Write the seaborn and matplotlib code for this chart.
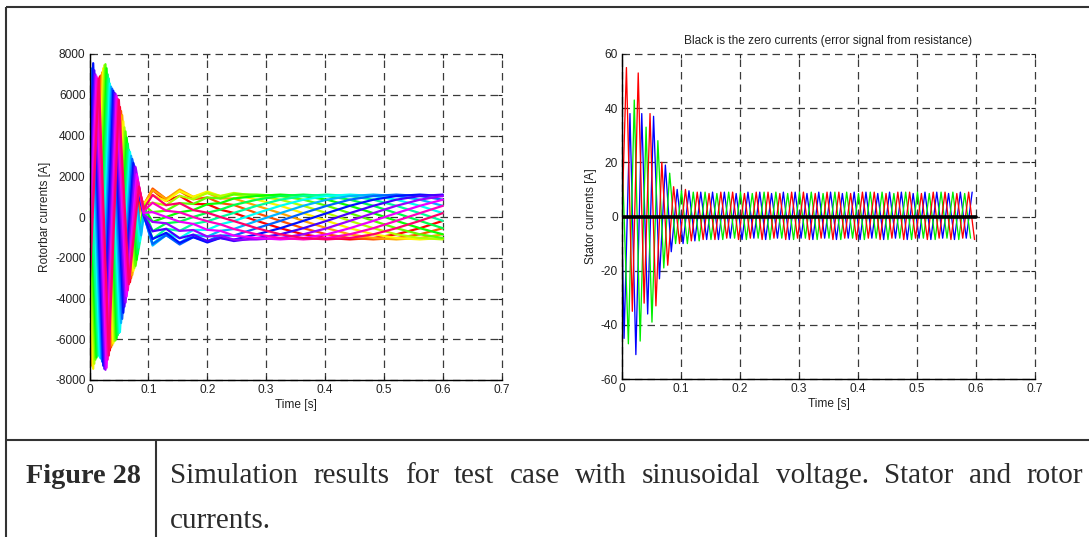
import matplotlib
matplotlib.use("Agg")
import matplotlib.pyplot as plt
import seaborn as sns
import pandas as pd
from matplotlib.lines import Line2D

# ------------------------------------------------------------------ data
x_ticks = [0, 0.1, 0.2, 0.3, 0.4, 0.5, 0.6, 0.7]
x_tick_labels = ["0", "0.1", "0.2", "0.3", "0.4", "0.5", "0.6", "0.7"]
rotor_y_ticks = [-8000, -6000, -4000, -2000, 0, 2000, 4000, 6000, 8000]
stator_y_ticks = [-60, -40, -20, 0, 20, 40, 60]

# rotor bars (18 bars, hsv colour order); value at t = 0
rotor_start = [-3500, -3190, -2520, -1540, -350, 840, 1960, 2840, 3360,
               3500, 3190, 2520, 1540, 350, -840, -1960, -2840, -3360]
# start-up oscillation: time of first extreme of each bar and its half period
rotor_first_extreme_t = [0.0004, 0.0023, 0.0042, 0.0061, 0.0080, 0.0099, 0.0118, 0.0137, 0.0156,
                         0.0004, 0.0023, 0.0042, 0.0061, 0.0080, 0.0099, 0.0118, 0.0137, 0.0156]
rotor_half_period = 0.01705
rotor_extremes = [
    [-6500, 6900, -6550, 5400, -3200, 1200],
    [-7000, 6950, -6400, 5200, -3000, 900],
    [-7300, 7100, -6300, 5000, -2850],
    [-7450, 7300, -6200, 4700, -2650],
    [-7200, 7450, -6100, 4400, -2500],
    [-7000, 7500, -6050, 4200, -2400],
    [-6900, 7300, -5950, 3900, -2100],
    [-6800, 7000, -5800, 3600, -1800],
    [-6800, 6800, -5700, 3300, -1500],
    [6500, -6900, 6550, -5650, 3200, -1200],
    [7000, -6950, 6400, -5200, 3000, -900],
    [7300, -7100, 6300, -5000, 2850],
    [7550, -7300, 6200, -4700, 2650],
    [7200, -7450, 6100, -4400, 2500],
    [7000, -7500, 6050, -4200, 2450],
    [6900, -7400, 5950, -3900, 2100],
    [6800, -7000, 5800, -3600, 1800],
    [6800, -6800, 5750, -3300, 1500],
]
# slow (slip frequency) part: knot times and bar values at each knot
rotor_slow_t = [0.092, 0.107, 0.130, 0.153, 0.176, 0.200, 0.222, 0.245, 0.284,
                0.324, 0.363, 0.403, 0.442, 0.482, 0.521, 0.561, 0.600]
rotor_slow_values = [
    [500, 580, 630, 650, 630, 580, 500, 400, 300, 200, 120, 70, 50, 70, 120, 200, 300, 400],
    [1320, 1400, 1320, 1080, 700, 240, -240, -700, -1080, -1320, -1400, -1320, -1080, -700, -240, 240, 700, 1080],
    [780, 890, 890, 780, 580, 310, 0, -310, -580, -780, -890, -890, -780, -580, -310, 0, 310, 580],
    [1040, 1270, 1350, 1270, 1040, 680, 230, -230, -680, -1040, -1270, -1350, -1270, -1040, -680, -230, 230, 680],
    [640, 870, 990, 990, 870, 640, 340, 0, -340, -640, -870, -990, -990, -870, -640, -340, 0, 340],
    [630, 960, 1180, 1250, 1180, 960, 630, 210, -210, -630, -960, -1180, -1250, -1180, -960, -630, -210, 210],
    [360, 680, 910, 1030, 1030, 910, 680, 360, 0, -360, -680, -910, -1030, -1030, -910, -680, -360, 0],
    [200, 590, 910, 1110, 1180, 1110, 910, 590, 200, -200, -590, -910, -1110, -1180, -1110, -910, -590, -200],
    [-190, 190, 550, 850, 1030, 1100, 1030, 850, 550, 190, -190, -550, -850, -1030, -1100, -1030, -850, -550],
    [-550, -190, 190, 550, 850, 1030, 1100, 1030, 850, 550, 190, -190, -550, -850, -1030, -1100, -1030, -850],
    [-850, -550, -190, 190, 550, 850, 1030, 1100, 1030, 850, 550, 190, -190, -550, -850, -1030, -1100, -1030],
    [-1030, -850, -550, -190, 190, 550, 850, 1030, 1100, 1030, 850, 550, 190, -190, -550, -850, -1030, -1100],
    [-1100, -1030, -850, -550, -190, 190, 550, 850, 1030, 1100, 1030, 850, 550, 190, -190, -550, -850, -1030],
    [-1030, -1100, -1030, -850, -550, -190, 190, 550, 850, 1030, 1100, 1030, 850, 550, 190, -190, -550, -850],
    [-850, -1030, -1100, -1030, -850, -550, -190, 190, 550, 850, 1030, 1100, 1030, 850, 550, 190, -190, -550],
    [-550, -850, -1030, -1100, -1030, -850, -550, -190, 190, 550, 850, 1030, 1100, 1030, 850, 550, 190, -190],
    [-190, -550, -850, -1030, -1100, -1030, -850, -550, -190, 190, 550, 850, 1030, 1100, 1030, 850, 550, 190],
]

# stator phase currents: value at t=0, first extreme time, half-cycle extremes
stator_half_period = 0.01
stator_phases = ["blue", "green", "red"]
stator_start = {"blue": -5, "green": 16, "red": 0}
stator_first_extreme_t = {"blue": 0.0035, "green": 0.0008, "red": 0.0075}
stator_red = [55, -35, 53, -32, 38, -33, 20, -18, 11, -10,
              10, -9, 9, -8.5, 8.5, -8.5, 9, -8, 9, -8.5,
              8.5, -8, 9, -8.5, 9, -8, 8.5, -8.5, 9, -8,
              9, -8.5, 8.5, -8, 9, -8.5, 9, -8, 8.5, -8.5,
              9, -8, 9, -8.5, 8.5, -8, 9, -8.5, 9, -8,
              8.5, -8.5, 9, -8, 9, -8.5, 8.5, -8, 9, -8.5]
stator_blue = [-45, 38, -51, 38, -36, 37, -23, 19, -13, 10,
               -10, 9.5, -9, 9, -8.5, 9, -8.5, 9, -8, 8.5,
               -8.5, 9, -8, 9, -8.5, 8.5, -8, 9, -8.5, 9,
               -8, 8.5, -8.5, 9, -8, 9, -8.5, 8.5, -8, 9,
               -8.5, 9, -8, 8.5, -8.5, 9, -8, 9, -8.5, 8.5,
               -8, 9, -8.5, 9, -8, 8.5, -8.5, 9, -8, 9]
stator_green = [18, -47, 43, -46, 33, -39, 28, -19, 16, -10,
                9.5, -10, 9, -9, 9, -8.5, 8.5, -8.5, 9, -8,
                9, -8.5, 8.5, -8, 9, -8.5, 9, -8, 8.5, -8.5,
                9, -8, 9, -8.5, 8.5, -8, 9, -8.5, 9, -8,
                8.5, -8.5, 9, -8, 9, -8.5, 8.5, -8, 9, -8.5,
                9, -8, 8.5, -8.5, 9, -8, 9, -8.5, 8.5, -8]
stator_values = {"blue": stator_blue, "green": stator_green, "red": stator_red}
stator_colors = {"blue": "#0000ff", "green": "#00ee00", "red": "#ff0000"}
zero_t = [0.0, 0.6]
zero_current = [0.0, 0.0]

title_right = "Black is the zero currents (error signal from resistance)"
caption_label = "Figure 28"
caption_line1 = "Simulation results for test case with sinusoidal voltage. Stator and rotor"
caption_line2 = "currents."

# ------------------------------------------------------------------ frames
rotor_rows = []
n_bars = len(rotor_start)
for k in range(n_bars):
    name = f"bar{k:02d}"
    rotor_rows.append((name, 0.0, rotor_start[k]))
    for n, v in enumerate(rotor_extremes[k]):
        rotor_rows.append((name, rotor_first_extreme_t[k] + n * rotor_half_period, v))
    for j, t in enumerate(rotor_slow_t):
        rotor_rows.append((name, t, rotor_slow_values[j][k]))
rotor_df = pd.DataFrame(rotor_rows, columns=["bar", "t", "i"])
bar_names = [f"bar{k:02d}" for k in range(n_bars)]
cmap = plt.get_cmap("hsv")
bar_palette = {bar_names[k]: cmap(k / n_bars) for k in range(n_bars)}

stator_rows = []
for ph in stator_phases:
    stator_rows.append((ph, 0.0, stator_start[ph]))
    for n, v in enumerate(stator_values[ph]):
        stator_rows.append((ph, stator_first_extreme_t[ph] + n * stator_half_period, v))
stator_df = pd.DataFrame(stator_rows, columns=["phase", "t", "i"])
zero_df = pd.DataFrame({"t": zero_t, "i": zero_current})

# ------------------------------------------------------------------ style
sns.set_style("ticks")
plt.rcParams["font.family"] = ["Liberation Sans", "DejaVu Sans"]
txt_col = "#222222"
fs = 8.6

W, H = 1089, 537
fig = plt.figure(figsize=(W / 100, H / 100), dpi=100)
fig.patch.set_facecolor("white")

def px_rect(x0, y0, x1, y1):
    return [x0 / W, 1 - y1 / H, (x1 - x0) / W, (y1 - y0) / H]

ax1 = fig.add_axes(px_rect(89.6, 54, 501.7, 380))
ax2 = fig.add_axes(px_rect(622, 54, 1035, 379))

sns.lineplot(data=rotor_df, x="t", y="i", hue="bar", hue_order=bar_names,
             palette=bar_palette, estimator=None, sort=False, legend=False,
             linewidth=1.6, ax=ax1)

sns.lineplot(data=stator_df, x="t", y="i", hue="phase", hue_order=stator_phases,
             palette=stator_colors, estimator=None, sort=False, legend=False,
             linewidth=0.95, ax=ax2)
sns.lineplot(data=zero_df, x="t", y="i", color="black", estimator=None,
             sort=False, linewidth=2.6, ax=ax2)

def style_axes(ax, yticks, ylabel):
    ax.set_xlim(0, 0.7)
    ax.set_ylim(yticks[0], yticks[-1])
    ax.set_xticks(x_ticks)
    ax.set_xticklabels(x_tick_labels)
    ax.set_yticks(yticks)
    ax.set_yticklabels([str(v) for v in yticks])
    ax.set_axisbelow(True)
    ax.grid(True, linestyle=(0, (6, 4)), color="#3a3a3a", linewidth=0.9)
    for gl in ax.get_xgridlines() + ax.get_ygridlines():
        gl.set_clip_on(False)
    for s in ["top", "right"]:
        ax.spines[s].set_visible(False)
    for s in ["left", "bottom"]:
        ax.spines[s].set_color("black")
        ax.spines[s].set_linewidth(1.0)
    ax.tick_params(direction="in", length=3, width=0.8, top=True, right=True,
                   labelsize=fs, colors=txt_col, pad=3)
    ax.set_xlabel("Time [s]", fontsize=fs, color=txt_col, labelpad=2)
    ax.set_ylabel(ylabel, fontsize=fs, color=txt_col, labelpad=3)
    ax.set_facecolor("white")

style_axes(ax1, rotor_y_ticks, "Rotorbar currents [A]")
style_axes(ax2, stator_y_ticks, "Stator currents [A]")
ax2.set_title(title_right, fontsize=fs, color=txt_col, pad=7)

# ------------------------------------------------------------------ caption frame
frame_col = "#333333"
frame_lw = 1.5
def fig_line(x0, y0, x1, y1):
    fig.add_artist(Line2D([x0 / W, x1 / W], [1 - y0 / H, 1 - y1 / H],
                          transform=fig.transFigure, color=frame_col,
                          linewidth=frame_lw, solid_capstyle="butt"))

fig_line(6, 7, W, 7)
fig_line(6, 7, 6, H)
fig_line(6, 440, W, 440)
fig_line(155.7, 440, 155.7, H)

serif = ["Liberation Serif", "DejaVu Serif"]
cap_fs_bold = 20.3
cap_fs = 21.0
cap_col = "#2b2b2b"
fig.text(26 / W, 1 - 482.7 / H, caption_label, fontsize=cap_fs_bold, family=serif,
         fontweight="bold", color=cap_col, va="baseline", ha="left")

# justified first caption line
renderer = fig.canvas.get_renderer()
words = caption_line1.split()
widths = []
for w in words:
    t = fig.text(0, 0, w, fontsize=cap_fs, family=serif)
    widths.append(t.get_window_extent(renderer).width)
    t.remove()
x_left, x_right = 170.0, 1083.0
gap = (x_right - x_left - sum(widths)) / (len(words) - 1)
x = x_left
for w, wd in zip(words, widths):
    fig.text(x / W, 1 - 482.7 / H, w, fontsize=cap_fs, family=serif,
             color=cap_col, va="baseline", ha="left")
    x += wd + gap
fig.text(x_left / W, 1 - 528 / H, caption_line2, fontsize=cap_fs, family=serif,
         color=cap_col, va="baseline", ha="left")

fig.savefig("out.png", dpi=100, facecolor="white")
